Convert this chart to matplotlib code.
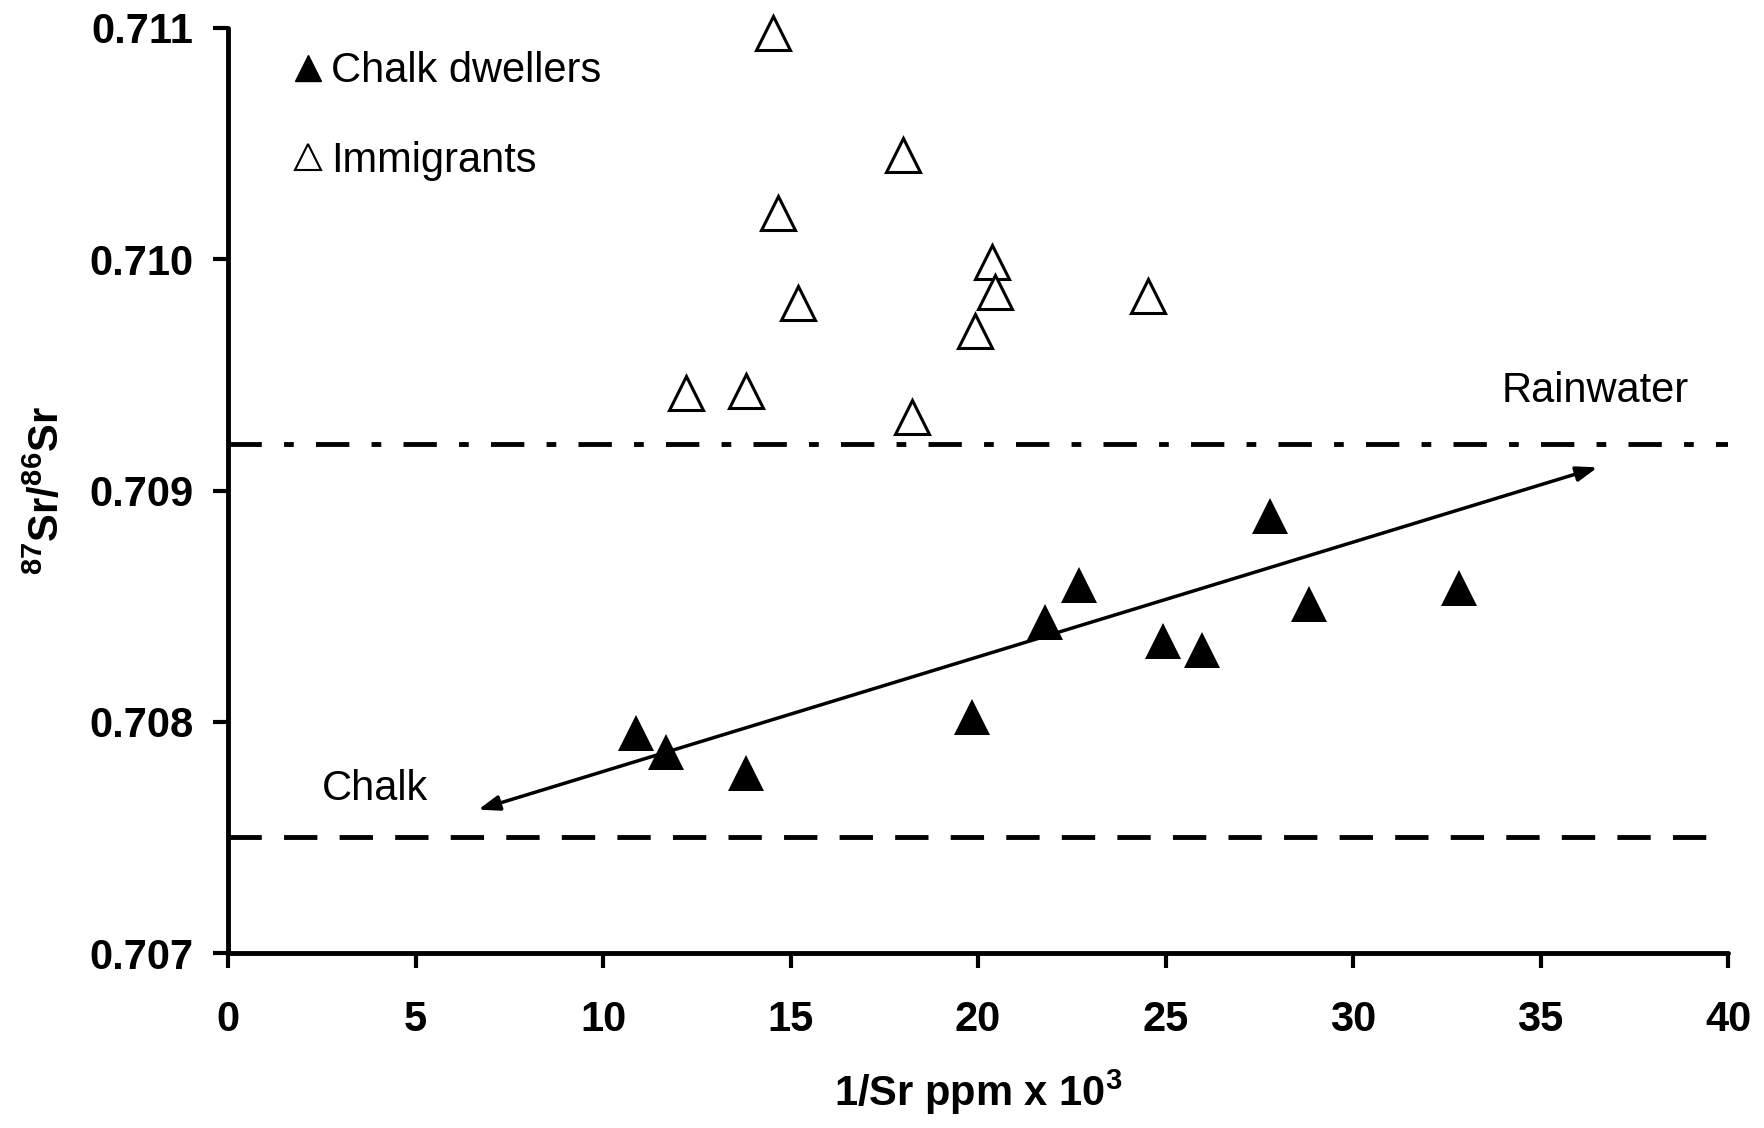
import matplotlib
matplotlib.use('Agg')
import matplotlib.pyplot as plt
from matplotlib.lines import Line2D
from matplotlib.ticker import FormatStrFormatter

plt.rcParams['font.family'] = ['Liberation Sans', 'DejaVu Sans']
plt.rcParams['mathtext.fontset'] = 'custom'
plt.rcParams['mathtext.rm'] = 'Liberation Sans:bold'
plt.rcParams['mathtext.default'] = 'regular'
plt.rcParams['lines.scale_dashes'] = False

# chalk dwellers (filled triangles)
chalk_x = [10.88, 11.67, 13.81, 19.84, 21.79, 22.69, 24.93, 25.97, 27.79, 28.83, 32.82]
chalk_y = [0.70795, 0.70787, 0.70778, 0.70802, 0.70843, 0.70859, 0.70835, 0.70831, 0.70889, 0.70851, 0.70858]

# immigrants (open triangles)
imm_x = [14.53, 17.99, 14.66, 20.37, 20.45, 15.20, 24.53, 19.92, 12.21, 13.82, 18.25]
imm_y = [0.71098, 0.71045, 0.71020, 0.70999, 0.70986, 0.70981, 0.70984, 0.70969, 0.70942, 0.70943, 0.70932]

rain_level = 0.70920   # rainwater 87Sr/86Sr
chalk_level = 0.70750  # chalk 87Sr/86Sr

# mixing arrow ends (1/Sr, ratio)
arrow_start = (6.67, 0.70762)
arrow_end = (36.52, 0.70910)

x_ticks = [0, 5, 10, 15, 20, 25, 30, 35, 40]
y_ticks = [0.707, 0.708, 0.709, 0.710, 0.711]

fs = 30

fig = plt.figure(figsize=(17.64, 11.28), dpi=100)
ax = fig.add_axes([0.1293, 0.1551, 0.8503, 0.8201])

ax.axhline(rain_level, color='black', lw=3.5, dashes=(24, 16, 7, 16))
ax.axhline(chalk_level, color='black', lw=3.5, dashes=(24, 16))

ax.annotate('', xy=arrow_start, xytext=arrow_end,
            arrowprops=dict(arrowstyle='<|-|>,head_length=0.7,head_width=0.25',
                            color='black', lw=2.5, shrinkA=0, shrinkB=0,
                            mutation_scale=18))

ax.plot(chalk_x, chalk_y, linestyle='none', marker='^', markersize=26,
        color='black', markeredgewidth=0, clip_on=False)
ax.plot(imm_x, imm_y, linestyle='none', marker='^', markersize=25,
        markerfacecolor='white', markeredgecolor='black', markeredgewidth=2.2,
        clip_on=False)

ax.text(36.45, 0.70943, 'Rainwater', fontsize=fs, ha='center', va='center')
ax.text(3.92, 0.70771, 'Chalk', fontsize=fs, ha='center', va='center')

# legend with small triangles
handles = [Line2D([], [], linestyle='none', marker='^', markersize=19, color='black'),
           Line2D([], [], linestyle='none', marker='^', markersize=19,
                  markerfacecolor='white', markeredgecolor='black', markeredgewidth=1.5)]
ax.legend(handles, ['Chalk dwellers', 'Immigrants'], loc='upper left',
          bbox_to_anchor=(0.045, 0.975), frameon=False, fontsize=fs,
          handlelength=0.6, handletextpad=0.25, labelspacing=1.19,
          borderpad=0, borderaxespad=0)

ax.set_xlim(0, 40)
ax.set_ylim(0.707, 0.711)
ax.set_xticks(x_ticks)
ax.set_yticks(y_ticks)
ax.yaxis.set_major_formatter(FormatStrFormatter('%.3f'))

for side in ['top', 'right']:
    ax.spines[side].set_visible(False)
for side in ['left', 'bottom']:
    ax.spines[side].set_linewidth(3.5)
    ax.spines[side].set_capstyle('round')

ax.tick_params(axis='both', direction='out', length=11, width=3,
               labelsize=fs, colors='black')
ax.tick_params(axis='x', pad=23)
ax.tick_params(axis='y', pad=14)
for lab in ax.get_xticklabels() + ax.get_yticklabels():
    lab.set_fontweight('bold')

ax.set_xlabel('1/Sr ppm x 10$^{3}$', fontsize=fs, fontweight='bold')
ax.set_ylabel('$^{87}$Sr/$^{86}$Sr', fontsize=fs, fontweight='bold')
ax.xaxis.set_label_coords(0.5, -0.124)
ax.yaxis.set_label_coords(-0.107, 0.5)

fig.savefig('out.png', dpi=100)
